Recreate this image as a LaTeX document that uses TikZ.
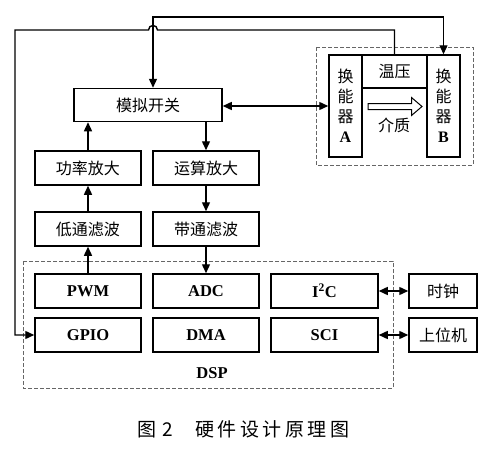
\documentclass[tikz,border=0pt]{standalone}
\usepackage{fontspec}
\setmainfont{Liberation Serif}
\newfontfamily\cjk{Noto Sans CJK SC}
\usetikzlibrary{arrows.meta}
\tikzset{
  box/.style={draw, line width=1.5pt, inner sep=0pt, minimum width=106pt, minimum height=34pt, font=\cjk\fontsize{16}{20}\selectfont},
  lbox/.style={box, font=\rmfamily\bfseries\fontsize{16.5}{20}\selectfont},
  tbox/.style={draw, line width=1.5pt, inner sep=0pt, minimum width=33pt, minimum height=102pt, align=center, font=\cjk\fontsize{16}{20}\selectfont},
  arr/.style={-{Triangle[length=9pt,width=8pt]}, line width=1.4pt},
  arrb/.style={{Triangle[length=9pt,width=8pt]}-{Triangle[length=9pt,width=8pt]}, line width=1.4pt},
  dbox/.style={draw=black!60, dash pattern=on 4pt off 2pt, line width=0.7pt},
}
\begin{document}
\begin{tikzpicture}[x=1pt,y=-1pt]
\useasboundingbox[fill=white] (0,0) rectangle (485,450);
% dashed groups
\draw[dbox] (316,47) rectangle (473,165);
\draw[dbox] (23,261) rectangle (393,388);
% boxes
\node[box, minimum width=148pt, minimum height=33pt] (moni) at (148,105) {模拟开关};
\node[box] (gonglv) at (88,168) {功率放大};
\node[box] (yunsuan) at (206,168) {运算放大};
\node[box] (ditong) at (88,229) {低通滤波};
\node[box] (daitong) at (206,229) {带通滤波};
\node[lbox] (pwm) at (88,291) {PWM};
\node[lbox] (adc) at (206,291) {ADC};
\node[lbox, minimum width=107pt] (i2c) at (324.5,291) {I\textsuperscript{2}C};
\node[lbox] (gpio) at (88,335) {GPIO};
\node[lbox] (dma) at (206,335) {DMA};
\node[lbox, minimum width=107pt] (sci) at (324.5,335) {SCI};
\node[box, minimum width=68pt] (clock) at (443,291) {时钟};
\node[box, minimum width=68pt] (pc) at (443,335) {上位机};
\node[font=\rmfamily\bfseries\fontsize{16.5}{20}\selectfont] (dsp) at (212,373) {DSP};
% transducers
\node[tbox] (A) at (345.5,106) {换\\能\\器\\{\rmfamily\bfseries A}};
\node[tbox] (B) at (443.5,106) {换\\能\\器\\{\rmfamily\bfseries B}};
\node[box, minimum width=65pt, minimum height=33pt] (wenya) at (394.5,71.5) {温压};
\node[font=\cjk\fontsize{16}{20}\selectfont] (jiezhi) at (394,125) {介质};
\draw[line width=1pt] (368,103.5) -- (411.5,103.5) -- (411.5,97.5) -- (422,106.5) -- (411.5,115.5) -- (411.5,109.5) -- (368,109.5) -- cycle;
% signal chain
\draw[arr] (gonglv.north) -- (gonglv.north |- moni.south);
\draw[arr] (yunsuan.north |- moni.south) -- (yunsuan.north);
\draw[arr] (ditong.north) -- (gonglv.south);
\draw[arr] (pwm.north) -- (ditong.south);
\draw[arr] (yunsuan.south) -- (daitong.north);
\draw[arr] (daitong.south) -- (adc.north);
\draw[arrb] (moni.east |- A.west) -- (A.west);
\draw[arrb] (i2c.east) -- (clock.west);
\draw[arrb] (sci.east) -- (pc.west);
% top connectors
\coordinate (t1) at (153,17);
\coordinate (t2) at (443.5,17);
\draw[arrb] ([xshift=5pt]moni.north) -- (t1) -- (t2) -- (B.north);
\coordinate (w1) at (394.5,30);
\coordinate (h1) at (157.5,30);
\coordinate (h2) at (148.5,30);
\coordinate (l1) at (15,30);
\coordinate (l2) at (15,335);
\draw[arr] (wenya.north) -- (w1) -- (h1) .. controls (157.5,24) and (148.5,24) .. (h2) -- (l1) -- (l2) -- (gpio.west);
% caption
\node[font=\cjk\fontsize{19}{22}\selectfont, inner sep=0pt] (cap) at (243.5,429) {图\hspace{6pt}2\hspace{22pt}硬\hspace{3.5pt}件\hspace{3.5pt}设\hspace{3.5pt}计\hspace{3.5pt}原\hspace{3.5pt}理\hspace{3.5pt}图};
\end{tikzpicture}
\end{document}
